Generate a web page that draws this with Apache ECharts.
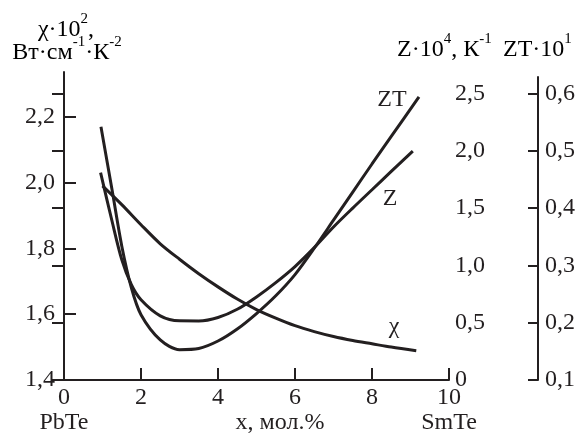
<!DOCTYPE html>
<html>
<head>
<meta charset="utf-8">
<script src="https://cdn.jsdelivr.net/npm/echarts@6/dist/echarts.min.js"></script>
<style>html,body{margin:0;padding:0;background:#fff;}#c{width:587px;height:435px;}</style>
</head>
<body>
<div id="c"></div>
<script>
// x, mol.% (PbTe -> SmTe)
const xTicks = [0, 2, 4, 6, 8, 10];
const chiTicks = [1.4, 1.6, 1.8, 2.0, 2.2];
const zTicks = [0, 0.5, 1.0, 1.5, 2.0, 2.5];
const ztTicks = [0.1, 0.2, 0.3, 0.4, 0.5, 0.6];

// chi*10^2, W/(cm K^2)
const xChi = [1.0, 1.5, 2.0, 2.5, 3.0, 3.5, 4.0, 4.5, 5.0, 5.5, 6.0, 6.5, 7.0, 7.5, 8.0, 8.5, 9.15];
const chi  = [1.99, 1.933, 1.872, 1.814, 1.767, 1.723, 1.683, 1.646, 1.614, 1.588, 1.565, 1.547, 1.532, 1.520, 1.510, 1.500, 1.489];

// Z*10^4, 1/K
const xZ = [0.95, 1.25, 1.5, 1.75, 2.0, 2.5, 3.0, 3.5, 4.0, 4.5, 5.0, 5.5, 6.0, 6.5, 7.0, 7.5, 8.0, 8.5, 9.06];
const Z  = [1.81, 1.383, 1.051, 0.831, 0.70, 0.56, 0.516, 0.515, 0.545, 0.617, 0.725, 0.85, 0.99, 1.155, 1.335, 1.50, 1.66, 1.82, 1.997];

// ZT*10^1
const xZT = [0.96, 1.25, 1.5, 1.75, 2.0, 2.5, 3.0, 3.5, 4.0, 4.5, 5.0, 5.5, 6.0, 6.5, 7.0, 7.5, 8.0, 8.5, 9.22];
const ZT  = [0.542, 0.431, 0.334, 0.261, 0.214, 0.170, 0.153, 0.155, 0.168, 0.189, 0.216, 0.247, 0.284, 0.330, 0.379, 0.428, 0.477, 0.525, 0.594];

const INK = '#231f20';
const FONT = '"Times New Roman", "Liberation Serif", Times, serif';
const FS = 24;
const comma = v => Number(v).toFixed(1).replace('.', ',');

const chart = echarts.init(document.getElementById('c'));
const axisLine = {show: true, lineStyle: {color: INK, width: 2}};
const tick = len => ({show: true, inside: true, length: len, lineStyle: {color: INK, width: 2}});
const lbl = {color: INK, fontFamily: FONT, fontSize: FS};
const pairs = (xs, ys) => xs.map((x, i) => [x, ys[i]]);
const rich = {
  n: {fontFamily: FONT, fontSize: FS, color: INK, verticalAlign: 'bottom', lineHeight: 30},
  s: {fontFamily: FONT, fontSize: 15, color: INK, verticalAlign: 'top', lineHeight: 15}
};
const plain = {fontFamily: FONT, fontSize: FS, fill: INK, align: 'center', verticalAlign: 'middle'};

chart.setOption({
  animation: false,
  backgroundColor: '#fff',
  textStyle: {fontFamily: FONT},
  grid: [
    {left: 64, right: 138, top: 72, bottom: 55},
    {left: 64, right: 138, top: 77, bottom: 55}
  ],
  xAxis: [
    {gridIndex: 0, type: 'value', min: 0, max: 10, interval: 2,
     axisLine: axisLine, axisTick: tick(12), splitLine: {show: false},
     axisLabel: Object.assign({}, lbl, {margin: 5, lineHeight: 25,
       formatter: v => v === 0 ? '0\nPbTe' : (v === 10 ? '10\nSmTe' : String(v))})},
    {gridIndex: 1, type: 'value', min: 0, max: 10, show: false}
  ],
  yAxis: [
    {gridIndex: 0, type: 'value', min: 1.4, max: 2.336, position: 'left',
     axisLine: axisLine, splitLine: {show: false},
     axisTick: Object.assign(tick(12), {customValues: chiTicks}),
     axisLabel: Object.assign({}, lbl, {margin: 9, customValues: chiTicks, formatter: comma})},
    {gridIndex: 1, type: 'value', min: 0, max: 2.644, position: 'right',
     axisLine: axisLine, splitLine: {show: false},
     axisTick: Object.assign(tick(12), {customValues: zTicks}),
     axisLabel: Object.assign({}, lbl, {margin: 6, customValues: zTicks,
       formatter: v => v === 0 ? '0' : comma(v)})},
    {gridIndex: 1, type: 'value', min: 0.1, max: 0.6288, position: 'right', offset: 89,
     axisLine: axisLine, splitLine: {show: false},
     axisTick: Object.assign(tick(10), {customValues: ztTicks}),
     axisLabel: Object.assign({}, lbl, {margin: 7, customValues: ztTicks, formatter: comma})}
  ],
  series: [
    {name: 'χ', type: 'line', xAxisIndex: 0, yAxisIndex: 0, data: pairs(xChi, chi),
     smooth: 0.3, showSymbol: false, lineStyle: {color: INK, width: 3}},
    {name: 'Z', type: 'line', xAxisIndex: 1, yAxisIndex: 1, data: pairs(xZ, Z),
     smooth: 0.3, showSymbol: false, lineStyle: {color: INK, width: 3}},
    {name: 'ZT', type: 'line', xAxisIndex: 1, yAxisIndex: 2, data: pairs(xZT, ZT),
     smooth: 0.3, showSymbol: false, lineStyle: {color: INK, width: 3}}
  ],
  graphic: [
    {type: 'text', x: 66, y: 27, style: {text: '{n|χ·10}{s|2}{n|,}', rich: rich, align: 'center', verticalAlign: 'middle'}},
    {type: 'text', x: 67, y: 50, style: {text: '{n|Вт·см}{s|-1}{n|·К}{s|-2}', rich: rich, align: 'center', verticalAlign: 'middle'}},
    {type: 'text', x: 397, y: 47, style: {text: '{n|Z·10}{s|4}{n|, К}{s|-1}', rich: rich, align: 'left', verticalAlign: 'middle'}},
    {type: 'text', x: 503, y: 47, style: {text: '{n|ZT·10}{s|1}', rich: rich, align: 'left', verticalAlign: 'middle'}},
    {type: 'text', x: 280, y: 423, style: Object.assign({text: 'x, мол.%'}, plain)},
    {type: 'text', x: 392, y: 100, style: Object.assign({text: 'ZT'}, plain)},
    {type: 'text', x: 390, y: 199, style: Object.assign({text: 'Z'}, plain)},
    {type: 'text', x: 394, y: 327, style: Object.assign({text: 'χ'}, plain)}
  ]
});
</script>
</body>
</html>
